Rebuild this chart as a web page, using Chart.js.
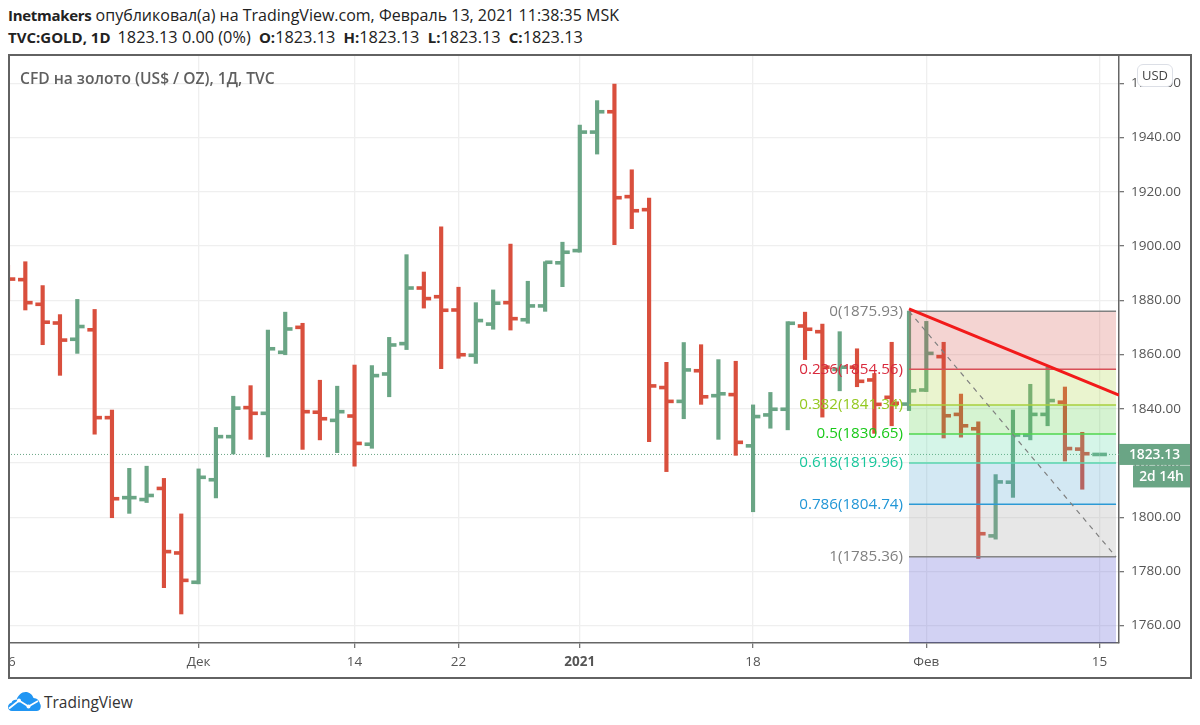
<!DOCTYPE html>
<html>
<head>
<meta charset="utf-8">
<title>TVC:GOLD</title>
<script src="https://cdn.jsdelivr.net/npm/chart.js@4/dist/chart.umd.min.js"></script>
<style>
  html, body { margin: 0; padding: 0; background: #fff; }
  body { width: 1200px; height: 725px; position: relative; overflow: hidden; font-family: "Open Sans", sans-serif; }
  .line { position: absolute; left: 8px; white-space: nowrap; font-size: 16px; color: #222; }
  .line b { font-weight: 700; font-size: 15px; letter-spacing: -0.3px; }
  .line2 { font-size: 16.3px; }
  .line2 b { letter-spacing: 0; }
  .line2 b.k { margin-left: 4px; }
  #wrap { position: absolute; left: 8px; top: 55px; width: 1183px; height: 623px; overflow: hidden; }
  #frame { position: absolute; left: 8px; top: 54px; width: 1184px; height: 625px; box-sizing: border-box; border: 2px solid #626262; pointer-events: none; }
  #name { position: absolute; left: 20px; top: 67px; font-size: 15.6px; font-weight: 600; color: #5f5f5f; white-space: nowrap; }
  #usd { position: absolute; left: 1137px; top: 64px; width: 36px; height: 23px; box-sizing: border-box; border: 1px solid #dcdfe6; border-radius: 6px; background: #fff; color: #444; font-size: 13px; line-height: 21px; text-align: center; }
  #logo { position: absolute; left: 8px; top: 692px; }
  #brand { position: absolute; left: 44px; top: 691px; font-size: 15.5px; color: #333; }
</style>
</head>
<body>
<div class="line" style="top:4px"><b>Inetmakers</b> опубликовал(а) на TradingView.com, Февраль 13, 2021 11:38:35 MSK</div>
<div class="line line2" style="top:26px"><b>TVC:GOLD, 1D</b><span style="margin-left:7px">1823.13 0.00 (0%)</span> <b class="k">O:</b>1823.13 <b class="k">H:</b>1823.13 <b class="k">L:</b>1823.13 <b class="k">C:</b>1823.13</div>
<div id="wrap"><canvas id="goldChart" width="1183" height="623"></canvas></div>
<div id="frame"></div>
<div id="name">CFD на золото (US$ / OZ), 1Д, TVC</div>
<div id="usd">USD</div>
<svg id="logo" width="33" height="19" viewBox="0 0 33 19">
  <path fill="#2196f3" d="M4 19C1.5 19 0 17.2 0 15c0-2.200 1.500-4 3.500-4.300C4.500 8.500 6.500 7.500 8.500 8 10 3.500 13.500 0 17.500 0c3.800 0 6.800 2.500 8 6 3.500 0 6 2.800 6.500 6 1.500 1 1 7-3 7z"/>
  <path fill="none" stroke="#fff" stroke-width="1.800" d="M1 16.500 L11 8.500 L20.500 14.500 L30 9"/>
  <circle cx="11" cy="8.500" r="2" fill="#fff"/><circle cx="20.500" cy="14.500" r="2" fill="#fff"/>
</svg>
<div id="brand">TradingView</div>

<script>
// Данные OHLC (индекс = торговый день)
const opens = [1889, 1887.6, 1878.5, 1871.6, 1865.6, 1869.1, 1836.7, 1807.2, 1806.5, 1810.6, 1786.8, 1776, 1813.8, 1829.7, 1840.4, 1838.3,
  1860.8, 1870, 1838.7, 1835.7, 1837.3, 1826.9, 1852.8, 1864, 1884.5, 1881.3, 1876.4, 1859.7, 1871.2, 1879.1, 1872.8, 1877.9,
  1893.8, 1898.3, 1942, 1949.5, 1918.2, 1913.4, 1847.8, 1842.7, 1854, 1844.8, 1845.2, 1826.3, 1837.7, 1839.8,
  1870.5, 1868.4, 1854.5, 1855.3, 1850.6, 1844.2, 1841.7, 1846.9, 1859.2, 1837.9, 1832.6, 1793.1, 1812.9, 1830.2, 1837.9, 1842.4, 1825.1, 1823.13];
const highs = [1893, 1894.2, 1885.4, 1874.7, 1880.3, 1876.6, 1839.5, 1818, 1818.8, 1814.3, 1801.2, 1817.8, 1833.1, 1844.6, 1848.5, 1869,
  1875.6, 1871.5, 1850.5, 1848.3, 1856.1, 1855.9, 1866.3, 1896.8, 1890.4, 1907.1, 1884.8, 1879.1, 1883.8, 1900.7, 1887, 1894.2,
  1901.4, 1944.6, 1953.6, 1959.7, 1928.1, 1917.7, 1857.1, 1864.4, 1863.6, 1858.1, 1857.5, 1841.4, 1846, 1872.1,
  1875.6, 1871.2, 1868.4, 1862.1, 1853, 1864.5, 1876, 1872.2, 1864.5, 1845.4, 1835.2, 1815.7, 1839.5, 1849, 1855.3, 1848, 1831.3, 1823.13];
const lows = [1880, 1876.4, 1863.6, 1852.3, 1860.4, 1830.6, 1799.8, 1801.4, 1805.4, 1774, 1764.3, 1775.4, 1807.1, 1823.3, 1828.7, 1822.2,
  1859.9, 1825, 1828.5, 1823.8, 1818.8, 1825.4, 1844.4, 1861.8, 1877.1, 1854.8, 1858.6, 1856.7, 1869.3, 1869, 1871.5, 1875.9,
  1885, 1897.7, 1933.9, 1900.5, 1906.4, 1827.8, 1816.8, 1836.3, 1841.6, 1828.7, 1822.8, 1802, 1832.8, 1832.2,
  1858.1, 1836.9, 1846.6, 1848.1, 1830.9, 1833.7, 1839.3, 1846.3, 1829.2, 1829.5, 1784.8, 1791.9, 1807.3, 1828.5, 1833.7, 1820.7, 1810.3, 1823.13];
const closes = [1887.8, 1879.1, 1871.9, 1865.3, 1870.3, 1836.7, 1806.8, 1807.2, 1808, 1787.3, 1776.7, 1814.7, 1829.7, 1840.2, 1838.3, 1862.1,
  1869.4, 1838.9, 1836.3, 1838.9, 1827.2, 1852.2, 1863.5, 1884.5, 1880.6, 1876.3, 1859.9, 1872.5, 1878.9, 1873.2, 1877.9, 1894,
  1897.7, 1942, 1949.5, 1917.8, 1913, 1848.4, 1842.7, 1854.3, 1844.4, 1845.5, 1827.6, 1837.1, 1839.8, 1871.5,
  1869.3, 1855.3, 1855.3, 1850.1, 1841.6, 1842, 1846.6, 1860.4, 1837.4, 1833.7, 1793.9, 1813, 1830.3, 1837.9, 1843, 1825.3, 1823.4, 1823.13];

// Подписи осей
const dateTickIndex = [0, 11, 20, 26, 33, 43, 53, 63];
const dateTickLabels = ['16', 'Дек', '14', '22', '2021', '18', 'Фев', '15'];
const priceTicks = [1760, 1780, 1800, 1820, 1840, 1860, 1880, 1900, 1920, 1940, 1960];

// Фибоначчи
const fibRatios = ['0', '0.236', '0.382', '0.5', '0.618', '0.786', '1'];
const fibPrices = [1875.93, 1854.56, 1841.34, 1830.65, 1819.96, 1804.74, 1785.36];
const fibLineColors = ['#808080', '#d9505a', '#a9cf3e', '#4fd84f', '#5ad6b0', '#2a9ad6', '#808080'];
const fibTextColors = ['#808080', '#d9293c', '#93c81f', '#18c918', '#18c79c', '#2196d6', '#808080'];
const fibZoneColors = ['rgba(211,75,67,.24)', 'rgba(171,211,63,.25)', 'rgba(87,207,71,.25)', 'rgba(87,215,163,.25)',
  'rgba(79,163,207,.25)', 'rgba(159,159,159,.25)', 'rgba(67,67,203,.24)'];
const fibStart = 52;
const fibEnd = 63.95;

// Трендовая линия
const trendX = [52, 64.12];
const trendY = [1876.8, 1845];

const lastPrice = 1823.13;
const lastCountdown = '2d 14h';

const RED = '#d94f3d';
const GREEN = '#6aa585';
const barColor = (i) => (closes[i] >= opens[i] ? GREEN : RED);

// Горизонтальные засечки open/close рисуются вместе со столбиками
const ohlcTicks = {
  id: 'ohlcTicks',
  afterDatasetDraw(chart, args) {
    if (args.meta.type !== 'bar') return;
    const { ctx, chartArea, scales } = chart;
    ctx.save();
    ctx.beginPath();
    ctx.rect(chartArea.left, chartArea.top, chartArea.width, chartArea.height);
    ctx.clip();
    opens.forEach((o, i) => {
      const x = scales.x.getPixelForValue(i);
      ctx.fillStyle = barColor(i);
      ctx.fillRect(x - 7.3, scales.y.getPixelForValue(o) - 1.8, 7.3, 3.6);
      ctx.fillRect(x, scales.y.getPixelForValue(closes[i]) - 1.8, 7.3, 3.6);
    });
    ctx.restore();
  },
};

// Подписи уровней и ярлык цены
const overlayText = {
  id: 'overlayText',
  afterDraw(chart) {
    const { ctx, chartArea, scales } = chart;
    const left = scales.x.getPixelForValue(fibStart) - 6;
    ctx.save();
    ctx.font = '15.2px "Open Sans"';
    ctx.textAlign = 'right';
    ctx.textBaseline = 'middle';
    fibPrices.forEach((p, i) => {
      ctx.fillStyle = fibTextColors[i];
      ctx.fillText(fibRatios[i] + '(' + p.toFixed(2) + ')', left, scales.y.getPixelForValue(p));
    });
    const y = scales.y.getPixelForValue(lastPrice);
    const right = chartArea.right + 71;
    ctx.fillStyle = GREEN;
    ctx.fillRect(chartArea.right, y - 10.5, 71, 21);
    ctx.fillRect(chartArea.right + 14, y + 11, 57, 22);
    ctx.fillStyle = '#fff';
    ctx.textAlign = 'center';
    ctx.font = '600 13.8px "Open Sans"';
    ctx.fillText(lastPrice.toFixed(2), (chartArea.right + right) / 2, y + 1);
    ctx.fillText(lastCountdown, chartArea.right + 14 + 28.5, y + 23);
    ctx.restore();
  },
};

const level = (p) => [{ x: fibStart, y: p }, { x: fibEnd, y: p }];

const fibDatasets = fibPrices.map((p, i) => ({
  type: 'line',
  data: level(p),
  order: 3,
  borderColor: fibLineColors[i],
  borderWidth: 1.5,
  pointRadius: 0,
  backgroundColor: fibZoneColors[i],
  fill: i < fibPrices.length - 1 ? '+1' : 'start',
}));

const ctx = document.getElementById('goldChart').getContext('2d');
new Chart(ctx, {
  type: 'bar',
  data: {
    datasets: [
      {
        type: 'line',
        data: [{ x: trendX[0], y: trendY[0] }, { x: trendX[1], y: trendY[1] }],
        order: 1,
        borderColor: '#f21a1a',
        borderWidth: 3,
        pointRadius: 0,
      },
      {
        type: 'line',
        data: [{ x: fibStart, y: fibPrices[0] }, { x: fibEnd, y: fibPrices[6] }],
        order: 2,
        borderColor: '#808080',
        borderWidth: 1.2,
        borderDash: [5, 5],
        pointRadius: 0,
      },
      ...fibDatasets,
      {
        data: opens.map((_, i) => ({ x: i, y: [lows[i], highs[i]] })),
        order: 4,
        backgroundColor: opens.map((_, i) => barColor(i)),
        barThickness: 3.5,
        grouped: false,
      },
      {
        type: 'line',
        data: [{ x: 0, y: lastPrice }, { x: 64.12, y: lastPrice }],
        order: 5,
        borderColor: GREEN,
        borderWidth: 1,
        borderDash: [1, 2],
        pointRadius: 0,
      },
    ],
  },
  options: {
    responsive: false,
    animation: false,
    events: [],
    layout: { padding: 0 },
    plugins: { legend: { display: false }, tooltip: { enabled: false }, title: { display: false } },
    scales: {
      x: {
        type: 'linear',
        offset: false,
        min: 0,
        max: 64.12,
        afterBuildTicks: (axis) => { axis.ticks = dateTickIndex.map((v) => ({ value: v })); },
        afterFit: (axis) => { axis.height = 35; axis.paddingLeft = 0; axis.paddingRight = 0; },
        grid: { offset: false, color: '#efefef', lineWidth: 1.3, tickColor: '#777', tickLength: 5 },
        border: { display: true, color: '#666', width: 1.5 },
        ticks: {
          autoSkip: false,
          maxRotation: 0,
          padding: 6,
          color: '#555',
          font: (c) => ({ family: '"Open Sans"', size: 13.5, weight: c.tick && c.tick.value === 33 ? '700' : '400' }),
          callback: (v) => dateTickLabels[dateTickIndex.indexOf(v)],
        },
      },
      y: {
        position: 'right',
        min: 1753.6,
        max: 1970.43,
        afterBuildTicks: (axis) => { axis.ticks = priceTicks.map((v) => ({ value: v })); },
        afterFit: (axis) => { axis.width = 72; axis.paddingTop = 0; axis.paddingBottom = 0; },
        grid: { color: '#efefef', lineWidth: 1.3, tickColor: '#777', tickLength: 5 },
        border: { display: true, color: '#666', width: 1.5 },
        ticks: {
          padding: 7,
          color: '#555',
          font: { family: '"Open Sans"', size: 13.5 },
          callback: (v) => v.toFixed(2),
        },
      },
    },
  },
  plugins: [ohlcTicks, overlayText],
});
</script>
</body>
</html>
